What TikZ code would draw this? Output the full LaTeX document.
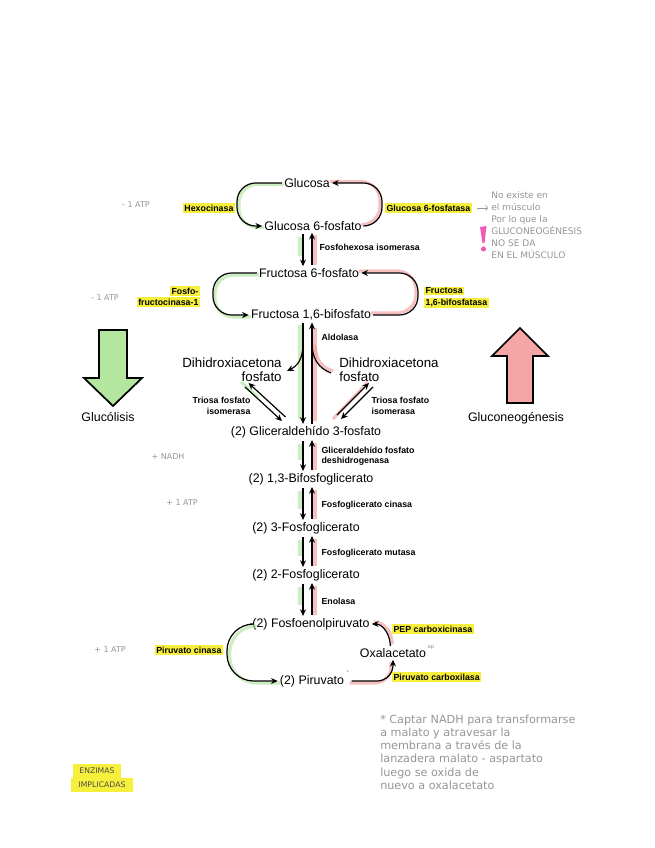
\documentclass[tikz,border=0pt]{standalone}
\usepackage{fontspec}
\setmainfont{Liberation Sans}
\newfontfamily\hand{DejaVu Sans}
\usetikzlibrary{arrows.meta,calc}
\definecolor{hlyel}{RGB}{246,240,60}
\definecolor{gsh}{RGB}{170,225,150}
\definecolor{rsh}{RGB}{240,150,150}
\definecolor{pencil}{RGB}{150,150,150}
\definecolor{bigg}{RGB}{180,230,160}
\definecolor{bigr}{RGB}{245,165,165}
\definecolor{pinkex}{RGB}{240,90,180}
\begin{document}
\begin{tikzpicture}[x=0.75pt,y=-0.75pt,
 met/.style={font=\fontsize{9.3}{11}\selectfont, inner sep=1.5pt},
 enz/.style={font=\bfseries\fontsize{6.6}{7.8}\selectfont, inner sep=1pt, align=left},
 hl/.style={enz, fill=hlyel},
 note/.style={font=\hand\fontsize{6}{9}\selectfont, text=pencil, inner sep=0pt, align=left},
 arr/.style={draw=black, line width=0.9pt, -{Stealth[length=5pt,width=4.5pt]}},
 ln/.style={draw=black, line width=0.9pt},
 gs/.style={draw=gsh, line width=2.3pt, opacity=0.6},
 rs/.style={draw=rsh, line width=2.3pt, opacity=0.6},
 bigarrow/.style={draw=black, line width=1.3pt, line join=miter},
]
\useasboundingbox (0,0) rectangle (655,848);
\fill[white] (0,0) rectangle (655,848);

% ---------- metabolites ----------
\node[met] (glc) at (307,183) {Glucosa};
\node[met] (g6p) at (313,226) {Glucosa 6-fosfato};
\node[met] (f6p) at (309,273) {Fructosa 6-fosfato};
\node[met] (f16) at (311,315) {Fructosa 1,6-bifosfato};
\node[met, font=\fontsize{10}{10.5}\selectfont, align=right] (dhapL) at (232,370) {Dihidroxiacetona\\fosfato};
\node[met, font=\fontsize{10}{10.5}\selectfont, align=left] (dhapR) at (389,370) {Dihidroxiacetona\\fosfato};
\node[met] (g3p) at (306,432) {(2) Gliceraldehído 3-fosfato};
\node[met] (bpg) at (311,479) {(2) 1,3-Bifosfoglicerato};
\node[met] (pg3) at (306,528) {(2) 3-Fosfoglicerato};
\node[met] (pg2) at (306,575) {(2) 2-Fosfoglicerato};
\node[met] (pep) at (311,624) {(2) Fosfoenolpiruvato};
\node[met] (pyr) at (312,681) {(2) Piruvato};
\node[met] (oaa) at (393,653) {Oxalacetato};

% ---------- enzymes ----------
\node[hl, anchor=east] (hex) at (235,208) {Hexocinasa};
\node[hl, anchor=west] (g6pase) at (385,208) {Glucosa 6-fosfatasa};
\node[enz, anchor=west] (pgi) at (318,247) {Fosfohexosa isomerasa};
\node[hl, anchor=east] (pfk1) at (200,291) {Fosfo-};
\node[hl, anchor=east] (pfk2) at (200,302) {fructocinasa-1};
\node[hl, anchor=west] (fbp1) at (424,291) {Fructosa};
\node[hl, anchor=west] (fbp2) at (424,303) {1,6-bifosfatasa};
\node[enz, anchor=west] (ald) at (320,337) {Aldolasa};
\node[enz, anchor=east, align=right] (tpiL) at (252,406) {Triosa fosfato\\isomerasa};
\node[enz, anchor=west, align=left] (tpiR) at (370,406) {Triosa fosfato\\isomerasa};
\node[enz, anchor=west] (gapdh) at (320,456) {Gliceraldehído fosfato\\deshidrogenasa};
\node[enz, anchor=west] (pgk) at (320,505) {Fosfoglicerato cinasa};
\node[enz, anchor=west] (pgm) at (320,553) {Fosfoglicerato mutasa};
\node[enz, anchor=west] (eno) at (320,601) {Enolasa};
\node[hl, anchor=east] (pk) at (223,650) {Piruvato cinasa};
\node[hl, anchor=west] (pepck) at (392,629) {PEP carboxicinasa};
\node[hl, anchor=west] (pc) at (392,677) {Piruvato carboxilasa};

% ---------- vertical reaction arrows ----------
\coordinate (xd) at (303,0);
\coordinate (xu) at (312,0);
\coordinate (xg) at (300,0);
\coordinate (xr) at (315,0);
\foreach \a/\b in {g6p/f6p, g3p/bpg, bpg/pg3, pg3/pg2, pg2/pep} {
  \draw[gs, shorten <=3pt, shorten >=8pt] (\a.south -| xg) -- (\b.north -| xg);
  \draw[rs, shorten <=2pt, shorten >=1pt] (\a.south -| xr) -- (\b.north -| xr);
  \draw[arr, shorten <=1pt] (\a.south -| xd) -- (\b.north -| xd);
  \draw[arr, shorten <=1pt] (\b.north -| xu) -- (\a.south -| xu);
}
% aldolase
\draw[gs, shorten <=2pt, shorten >=4pt] (f16.south -| xg) -- (g3p.north -| xg);
\draw[rs, shorten <=4pt, shorten >=2pt] (f16.south -| xr) -- (g3p.north -| xr);
\draw[arr] (f16.south -| xd) -- (g3p.north -| xd);
\draw[arr] (g3p.north -| xu) -- (f16.south -| xu);
\coordinate (bL) at (303,343);
\coordinate (tL) at (287,371);
\draw[arr] (bL) .. controls (303,360) and (297,366) .. (tL);
\coordinate (bR) at (312,343);
\coordinate (tR) at (331,373);
\draw[rs] (333,371) .. controls (320,367) and (316,358) .. (315,345);
\draw[ln] (tR) .. controls (318,368) and (312,358) .. (bR);

% triose phosphate isomerase (left)
\coordinate (tlA1) at (245,387); \coordinate (tlA2) at (282,421);
\coordinate (tlB1) at (285.5,417); \coordinate (tlB2) at (248.5,383);
\draw[gs] (241,382) -- (258,397);
\draw[arr] (tlA1) -- (tlA2);
\draw[arr] (tlB1) -- (tlB2);
% triose phosphate isomerase (right)
\coordinate (trA1) at (337,415); \coordinate (trA2) at (369,383);
\coordinate (trB1) at (373,387); \coordinate (trB2) at (341,419);
\draw[rs] (333,419) -- (368,382);
\draw[arr] (trA1) -- (trA2);
\draw[arr] (trB1) -- (trB2);

% ---------- cycles ----------
\coordinate (cg1) at (237,0);
\coordinate (cg2) at (382,0);
\coordinate (cf1) at (213,0);
\coordinate (cf2) at (418,0);
\coordinate (cp1) at (227,0);
% glucose / G6P
\draw[gs, rounded corners=14pt, transform canvas={xshift=1.5pt,yshift=-1pt}] (glc.west) -- (glc.west -| cg1) -- (g6p.west -| cg1) -- (g6p.west);
\draw[arr, rounded corners=14pt] (glc.west) -- (glc.west -| cg1) -- (g6p.west -| cg1) -- (g6p.west);
\draw[rs, rounded corners=14pt, transform canvas={xshift=-1.5pt,yshift=1pt}] (g6p.east) -- (g6p.east -| cg2) -- (glc.east -| cg2) -- (glc.east);
\draw[arr, rounded corners=14pt] (g6p.east) -- (g6p.east -| cg2) -- (glc.east -| cg2) -- (glc.east);
% F6P / F16BP
\draw[gs, rounded corners=14pt, transform canvas={xshift=1.5pt,yshift=-1.5pt}] (f6p.west) -- (f6p.west -| cf1) -- (f16.west -| cf1) -- (f16.west);
\draw[arr, rounded corners=14pt] (f6p.west) -- (f6p.west -| cf1) -- (f16.west -| cf1) -- (f16.west);
\draw[rs, rounded corners=14pt, transform canvas={xshift=-1.5pt,yshift=1.5pt}] (f16.east) -- (f16.east -| cf2) -- (f6p.east -| cf2) -- (f6p.east);
\draw[arr, rounded corners=14pt] (f16.east) -- (f16.east -| cf2) -- (f6p.east -| cf2) -- (f6p.east);
% PEP / pyruvate
\draw[gs, rounded corners=20pt, transform canvas={xshift=2pt,yshift=-1.5pt}] (pep.west) -- (pep.west -| cp1) -- (pyr.west -| cp1) -- (pyr.west);
\draw[arr, rounded corners=20pt] (pep.west) -- (pep.west -| cp1) -- (pyr.west -| cp1) -- (pyr.west);
\draw[rs, rounded corners=12pt, transform canvas={xshift=-1.5pt,yshift=-1.5pt}] ([xshift=4pt]pyr.east) -| (oaa.south);
\draw[arr, rounded corners=12pt] ([xshift=4pt]pyr.east) -| (oaa.south);
\draw[rs, transform canvas={xshift=1.5pt,yshift=1.5pt}] ([xshift=-2pt]oaa.north) to[out=90,in=0] (pep.east);
\draw[arr] ([xshift=-2pt]oaa.north) to[out=90,in=0] (pep.east);

% ---------- big arrows ----------
\filldraw[bigarrow, fill=bigg] (99,330) -- (127,330) -- (127,378) -- (142,378) -- (113,406) -- (84,378) -- (99,378) -- cycle;
\filldraw[bigarrow, fill=bigr] (507,403) -- (533,403) -- (533,356) -- (548,356) -- (520,328) -- (492,356) -- (507,356) -- cycle;
\node[met] (glyc) at (108,417) {Glucólisis};
\node[met] (gng) at (516,418) {Gluconeogénesis};

% ---------- handwritten notes ----------
\node[note] (n1) at (136,205) {- 1 ATP};
\node[note] (n2) at (105,298) {- 1 ATP};
\node[note] (n3) at (168,457) {+ NADH};
\node[note] (n4) at (182,503) {+ 1 ATP};
\node[note] (n5) at (110,650) {+ 1 ATP};
\node[note, font=\hand\fontsize{4}{5}\selectfont] (sp1) at (348,673) {*};
\node[note, font=\hand\fontsize{4}{5}\selectfont] (sp2) at (431,648) {ap};
\coordinate (arrEnd) at (488,208);
\draw[pencil, line width=0.5pt, -{To[length=2pt]}] ([xshift=4pt]g6pase.east) -- (arrEnd);
\node[note, anchor=north west, font=\hand\fontsize{6.8}{9}\selectfont] (nt1) at (491,191)
  {No existe en\\el músculo\\Por lo que la\\GLUCONEOGÉNESIS\\NO SE DA\\EN EL MÚSCULO};
\fill[pinkex] (480,227) -- (486.5,226) -- (484.5,243) -- (482.5,243) -- cycle;
\fill[pinkex] (483.5,249) circle (2.6);
\node[note, anchor=north west, font=\hand\fontsize{8.4}{9.8}\selectfont] (nt2) at (380,715)
  {* Captar NADH para transformarse\\a malato y atravesar la\\membrana a través de la\\lanzadera malato - aspartato\\luego se oxida de\\nuevo a oxalacetato};
\node[note, fill=hlyel, text=black!70, font=\hand\fontsize{5.8}{6}\selectfont, inner xsep=5pt, inner ysep=3pt] (enzA) at (97,771) {ENZIMAS};
\node[note, fill=hlyel, text=black!70, font=\hand\fontsize{5.8}{6}\selectfont, inner xsep=6pt, inner ysep=3pt] (enzB) at (102,785) {IMPLICADAS};
\end{tikzpicture}
\end{document}
